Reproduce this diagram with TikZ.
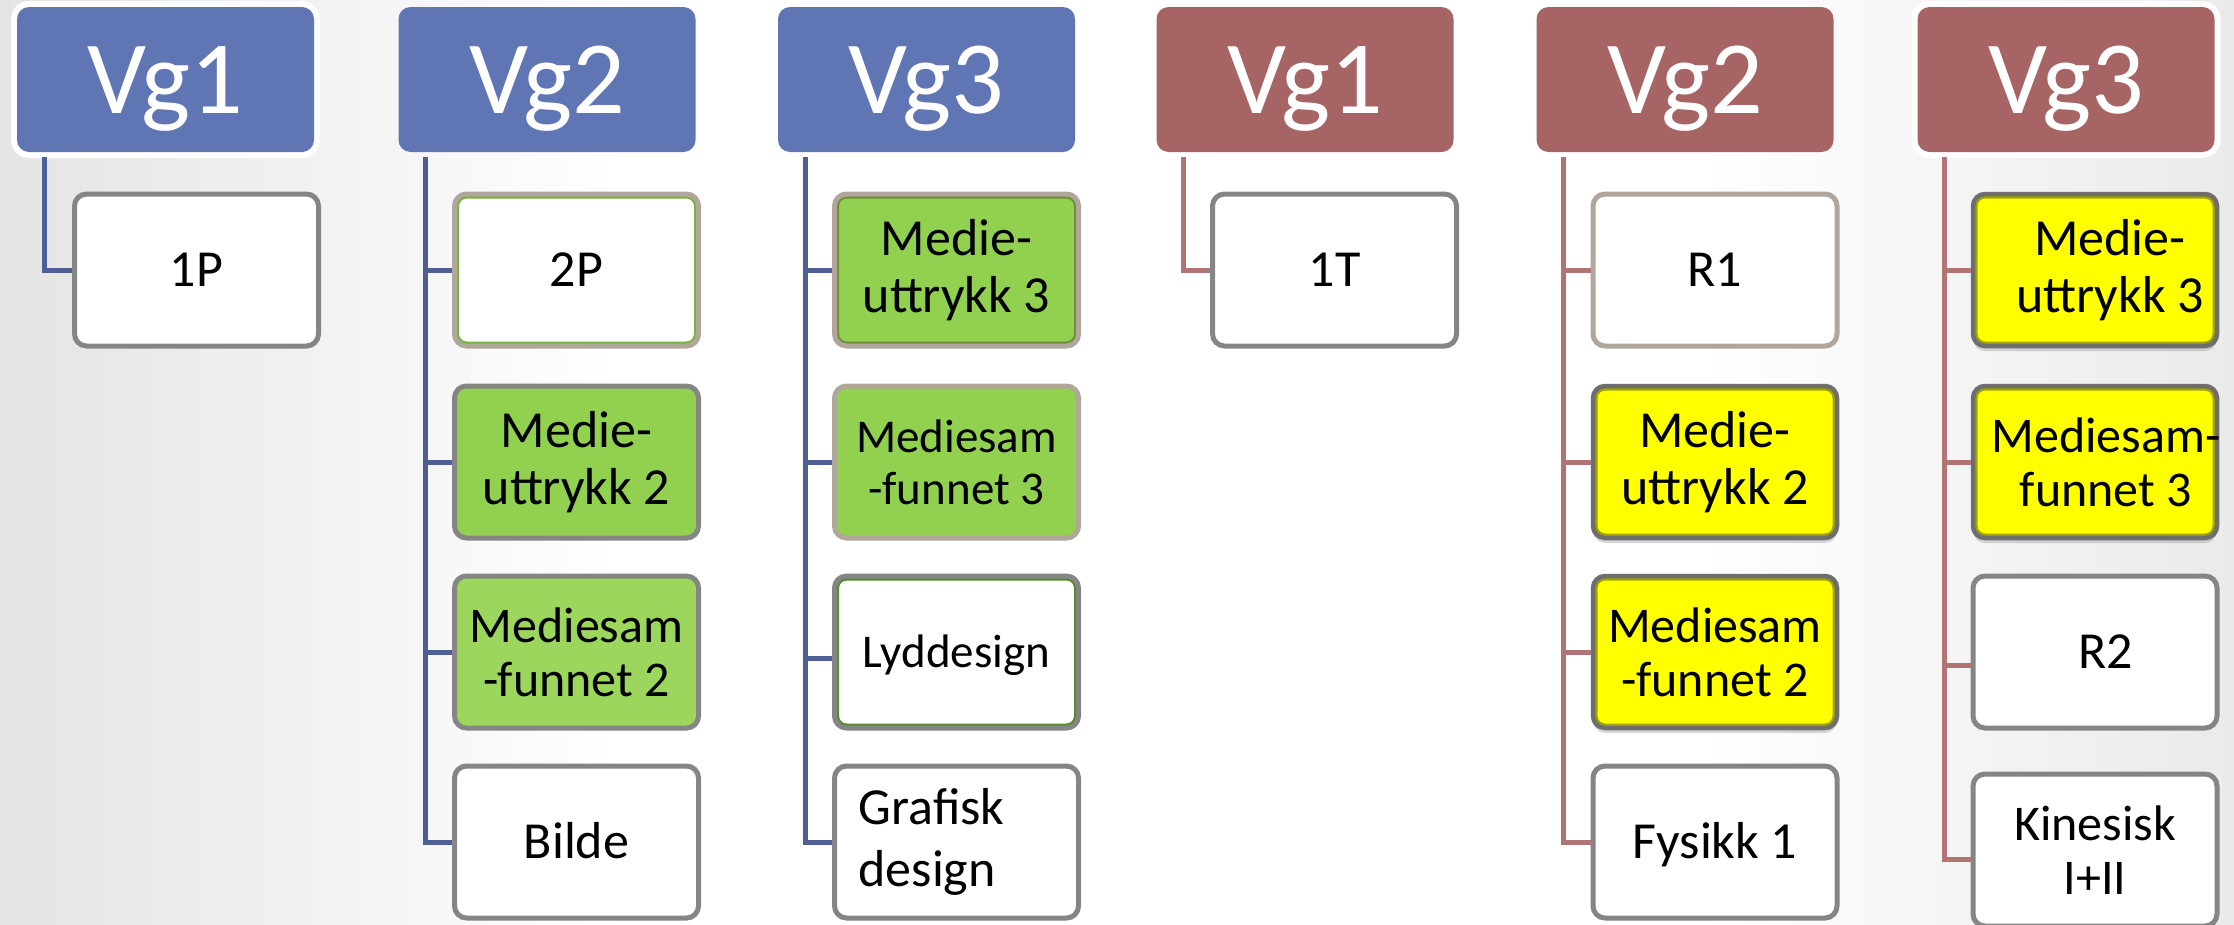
\documentclass[tikz,border=0pt]{standalone}
\usepackage{fontspec}
\setmainfont{Carlito}
\usetikzlibrary{shadows}
\definecolor{hdrblue}{HTML}{6076B4}
\definecolor{hdrred}{HTML}{A66464}
\definecolor{connblue}{HTML}{4E5F96}
\definecolor{connred}{HTML}{B07474}
\definecolor{boxgray}{HTML}{858585}
\definecolor{tanline}{HTML}{B0A69B}
\definecolor{boxgreen}{HTML}{92D050}
\definecolor{boxgreenb}{HTML}{9DD65D}
\definecolor{innergreen}{HTML}{78B43C}
\definecolor{dkgreen}{HTML}{6E8E3A}
\definecolor{lydgreen}{HTML}{5A8A2A}
\definecolor{ygray}{HTML}{6E6E6E}
\definecolor{olive}{HTML}{A3A300}
\definecolor{yfill}{RGB}{255,255,0}
\definecolor{bgl}{HTML}{E4E4E4}
\definecolor{bgr}{HTML}{EAEAEA}
\newcommand\fA{\fontsize{52}{57}\selectfont}
\newcommand\fB{\fontsize{50}{54}\selectfont}
\newcommand\fC{\fontsize{47}{52}\selectfont}
\newcommand\fG{\fontsize{52}{62}\selectfont}
\newcommand\fH{\fontsize{104}{110}\selectfont}
\begin{document}
\begin{tikzpicture}[x=1pt,y=-1pt,
  hdr/.style={rectangle, rounded corners=12pt, minimum width=297pt, minimum height=145pt,
    inner sep=0pt, text=white, font=\fH, text height=67pt, text depth=0pt},
  halo/.style={preaction={draw=white, line width=12pt}},
  box/.style={rectangle, rounded corners=12pt, minimum width=244pt, minimum height=152pt,
    inner sep=0pt, line width=5pt, font=\fA, align=center},
  graybox/.style={box, draw=boxgray, fill=white},
  one/.style={text height=#1, text depth=0pt},
  one/.default=33.5pt,
  innerline/.style={path picture={\draw[draw=#1, line width=9pt, rounded corners=12pt]
    (path picture bounding box.north west) rectangle (path picture bounding box.south east);}},
  yel/.style={box, fill=yfill, draw=ygray, line width=4.5pt, innerline=olive,
    drop shadow={shadow xshift=0pt, shadow yshift=-5pt, opacity=0.3}},
  cb/.style={draw=connblue, line width=5pt},
  cr/.style={draw=connred, line width=5pt}]
\useasboundingbox (0,0) rectangle (2234,924);
% background
\shade[left color=bgl, right color=white] (0,0) rectangle (620,924);
\fill[white] (619,0) rectangle (1701,924);
\shade[left color=white, right color=bgr] (1700,0) rectangle (2234,924);

% headers
\node[hdr, fill=hdrblue, halo] (h1) at (165.5,79.5) {Vg1};
\node[hdr, fill=hdrblue] (h2) at (547,79.5) {Vg2};
\node[hdr, fill=hdrblue] (h3) at (926.5,79.5) {Vg3};
\node[hdr, fill=hdrred] (h4) at (1305,79.5) {Vg1};
\node[hdr, fill=hdrred] (h5) at (1685,79.5) {Vg2};
\node[hdr, fill=hdrred, halo] (h6) at (2066,79.5) {Vg3};

% trunk tops
\coordinate (t1) at (44,157);
\coordinate (t2) at (425,157);
\coordinate (t3) at (805,157);
\coordinate (t4) at (1183,157);
\coordinate (t5) at (1563,157);
\coordinate (t6) at (1944,157);

% column 1
\node[graybox, one] (b11) at (196.5,270) {1P};
% column 2
\node[box, fill=white, draw=tanline, innerline=innergreen, one] (b21) at (576.5,270) {2P};
\node[box, fill=boxgreen, draw=boxgray] (b22) at (576.5,462) {Medie-\\uttrykk 2};
\node[box, fill=boxgreenb, draw=boxgray, font=\fB] (b23) at (576.5,652) {Mediesam\\-funnet 2};
\node[graybox, one] (b24) at (576.5,842) {Bilde};
% column 3
\node[box, fill=boxgreen, draw=tanline, innerline=dkgreen] (b31) at (956.5,270) {Medie-\\uttrykk 3};
\node[box, fill=boxgreen, draw=tanline, font=\fC] (b32) at (956.5,462) {Mediesam\\-funnet 3};
\node[box, fill=white, draw=boxgray, innerline=lydgreen, font=\fC, one=30.3pt] (b33) at (956.5,652) {Lyddesign};
\node[graybox, font=\fG, align=left, text width=196pt] (b34) at (956.5,842) {Grafisk\\design};
% column 4
\node[graybox, one] (b41) at (1334.5,270) {1T};
% column 5
\node[box, fill=white, draw=tanline, one] (b51) at (1715,270) {R1};
\node[yel] (b52) at (1715,462) {Medie-\\uttrykk 2};
\node[yel, font=\fB] (b53) at (1715,652) {Mediesam\\-funnet 2};
\node[graybox, one] (b54) at (1715,842) {Fysikk 1};
% column 6
\node[yel, label={[font=\fA, align=center, xshift=15pt, inner sep=0pt]center:Medie-\\uttrykk 3}] (b61) at (2095,270) {};
\node[yel, label={[font=\fB, align=center, xshift=11pt, inner sep=0pt]center:Mediesam-\\funnet 3}] (b62) at (2095,462) {};
\node[graybox, one] (b63) at (2095,652) {\hspace*{22pt}R2};
\node[graybox, font=\fB] (b64) at (2095,850) {Kinesisk\\I+II};

% connectors
\draw[cb] (t1) |- (b11.west);
\draw[cb] (t2) |- (b21.west);
\draw[cb] (t2) |- (b22.west);
\draw[cb] (t2) |- (b23.west);
\draw[cb] (t2) |- (b24.west);
\draw[cb] (t3) |- (b31.west);
\draw[cb] (t3) |- (b32.west);
\draw[cb] (t3) |- ([yshift=-6pt]b33.west);
\draw[cb] (t3) |- (b34.west);
\draw[cr] (t4) |- (b41.west);
\draw[cr] (t5) |- (b51.west);
\draw[cr] (t5) |- (b52.west);
\draw[cr] (t5) |- (b53.west);
\draw[cr] (t5) |- (b54.west);
\draw[cr] (t6) |- (b61.west);
\draw[cr] (t6) |- (b62.west);
\draw[cr] (t6) |- ([yshift=-13pt]b63.west);
\draw[cr] (t6) |- ([yshift=-9pt]b64.west);
\end{tikzpicture}
\end{document}
